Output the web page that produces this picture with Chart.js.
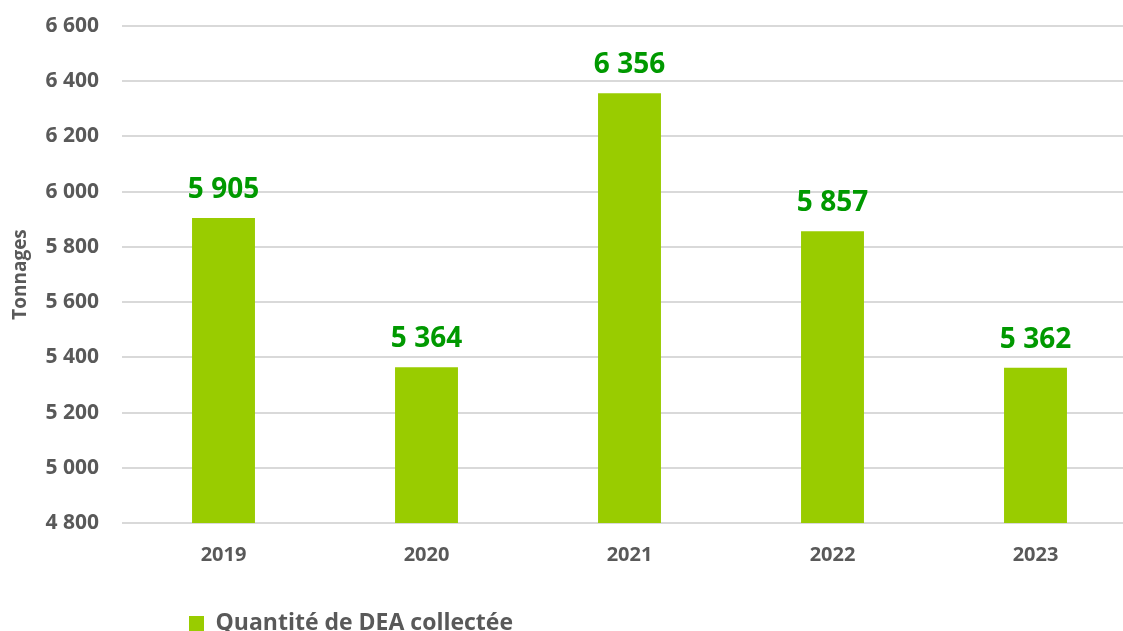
<!DOCTYPE html>
<html>
<head>
<meta charset="utf-8">
<script src="https://cdn.jsdelivr.net/npm/chart.js@4/dist/chart.umd.min.js"></script>
<style>
  html, body { margin: 0; padding: 0; background: #fff; overflow: hidden; }
  #wrap { width: 1123px; height: 631px; overflow: hidden; position: relative; }
  canvas { position: absolute; left: 0; top: 0; }
</style>
</head>
<body>
<div id="wrap"><canvas id="chart" width="1137" height="631"></canvas></div>
<script>
// Données
const years = ['2019', '2020', '2021', '2022', '2023'];
const tonnages = [5905, 5364, 6356, 5857, 5362];
const seriesName = 'Quantité de DEA collectée';
const axisTitle = 'Tonnages';

const grey = '#595959';
const fontFamily = '"Open Sans", "DejaVu Sans", sans-serif';

// format "6 600"
function fmt(v) {
  return String(Math.round(v)).replace(/\B(?=(\d{3})+(?!\d))/g, ' ');
}

// étiquettes de valeur au-dessus des barres
const valueLabels = {
  id: 'valueLabels',
  afterDatasetsDraw(chart) {
    const ctx = chart.ctx;
    const meta = chart.getDatasetMeta(0);
    ctx.save();
    ctx.font = 'bold 28px ' + fontFamily;
    ctx.fillStyle = '#009900';
    ctx.textAlign = 'center';
    ctx.textBaseline = 'alphabetic';
    meta.data.forEach((bar, i) => {
      ctx.fillText(fmt(tonnages[i]), bar.x, bar.y - 20);
    });
    ctx.restore();
  }
};

// place la légende comme dans l'original
const legendPos = {
  id: 'legendPos',
  afterLayout(chart) {
    const lg = chart.legend;
    const w = lg.right - lg.left;
    lg.left = 179;
    lg.right = lg.left + w;
    const h = lg.bottom - lg.top;
    lg.top = 602;
    lg.bottom = lg.top + h;
  }
};

const ctx = document.getElementById('chart').getContext('2d');
const chart = new Chart(ctx, {
  type: 'bar',
  data: {
    labels: years,
    datasets: [{
      label: seriesName,
      data: tonnages,
      backgroundColor: '#99cc00',
      barPercentage: 0.31,
      categoryPercentage: 1
    }]
  },
  options: {
    responsive: false,
    animation: false,
    layout: { padding: { top: 26, left: 0, right: 0, bottom: 20 } },
    scales: {
      x: {
        grid: { display: false, drawTicks: false },
        border: { display: false },
        ticks: { color: grey, font: { family: fontFamily, size: 20, weight: 'bold' }, padding: 20 },
        afterFit(scale) { scale.height = 45; }
      },
      y: {
        min: 4800,
        max: 6600,
        grid: { color: '#d9d9d9', lineWidth: 2, drawTicks: false },
        border: { display: false },
        ticks: {
          stepSize: 200,
          color: grey,
          padding: 23,
          font: { family: fontFamily, size: 21, weight: 'bold' },
          callback: (v) => fmt(v)
        },
        title: {
          display: true,
          text: axisTitle,
          color: grey,
          padding: { top: 9, bottom: 0 },
          font: { family: fontFamily, size: 19, weight: 'bold' }
        },
        afterFit(scale) {
          scale.width = 122;
          scale.paddingTop = 0;
          scale.paddingBottom = 0;
        }
      }
    },
    plugins: {
      tooltip: { enabled: false },
      legend: {
        position: 'bottom',
        align: 'start',
        labels: {
          color: grey,
          boxWidth: 15,
          boxHeight: 15,
          padding: 10,
          font: { family: fontFamily, size: 23, weight: 'bold' }
        }
      }
    }
  },
  plugins: [valueLabels, legendPos]
});
</script>
</body>
</html>
